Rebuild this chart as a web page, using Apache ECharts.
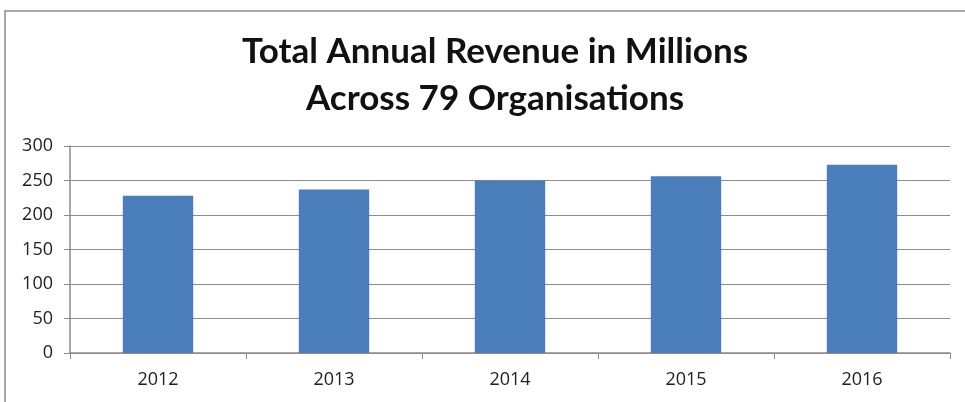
<!DOCTYPE html>
<html><head><meta charset="utf-8">
<script src="https://cdn.jsdelivr.net/npm/echarts@6/dist/echarts.min.js"></script>
<style>html,body{margin:0;padding:0;background:#fff}#c{width:965px;height:402px}</style>
</head><body><div id="c"></div>
<script>
const categories = ['2012','2013','2014','2015','2016'];
const revenue = [228, 237, 250, 256, 273];
const titleLines = ['Total Annual Revenue in Millions', 'Across 79 Organisations'];

const chart = echarts.init(document.getElementById('c'));
chart.setOption({
  animation: false,
  backgroundColor: '#fff',
  title: {
    text: titleLines.join('\n'),
    left: 490, top: 23, textAlign: 'center',
    textStyle: { fontFamily: 'Lato', fontWeight: 'bold', fontSize: 35, lineHeight: 47, color: '#111' }
  },
  graphic: [{
    type: 'rect', shape: { x: 5, y: 11, width: 1000, height: 450 },
    style: { fill: 'none', stroke: '#8c8c8c', lineWidth: 1.5 }, silent: true
  }],
  grid: { left: 70, right: 15, top: 146, bottom: 49 },
  xAxis: {
    type: 'category', data: categories,
    axisLine: { lineStyle: { color: '#8c8c8c', width: 1.5 } },
    axisTick: { show: true, alignWithLabel: false, length: 6, lineStyle: { color: '#8c8c8c' } },
    axisLabel: { fontFamily: 'Open Sans', fontSize: 18, color: '#222', margin: 18 }
  },
  yAxis: {
    type: 'value', min: 0, max: 300, interval: 50,
    axisLine: { show: true, lineStyle: { color: '#8c8c8c', width: 1.5 } },
    axisTick: { show: true, length: 6, lineStyle: { color: '#8c8c8c' } },
    splitLine: { lineStyle: { color: '#8c8c8c', width: 1.2 } },
    axisLabel: { fontFamily: 'Open Sans', fontSize: 18, color: '#222', margin: 17 }
  },
  series: [{
    type: 'bar', data: revenue, barWidth: '40%',
    itemStyle: { color: '#4a7ebb' }
  }]
});
</script></body></html>
